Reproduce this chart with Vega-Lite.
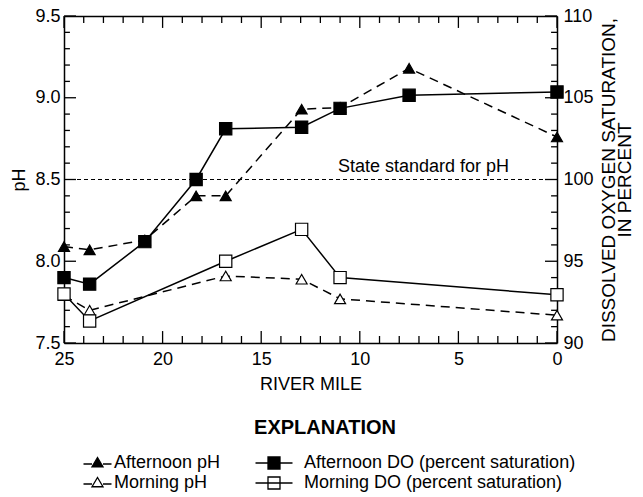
{
  "$schema": "https://vega.github.io/schema/vega-lite/v6.json",
  "width": 493,
  "height": 327,
  "autosize": "none",
  "padding": {"left": 64, "top": 16, "right": 86, "bottom": 154},
  "background": "white",
  "config": {
    "font": "Liberation Sans",
    "view": {"stroke": null},
    "axis": {
      "grid": false, "ticks": false, "domainColor": "black", "domainWidth": 1.5,
      "labelColor": "black", "labelFontSize": 18, "labelFont": "Liberation Sans", "labelFlush": false, "labelOverlap": false, "labelBound": false,
      "titleColor": "black", "titleFontSize": 18, "titleFont": "Liberation Sans", "titleFontWeight": "normal"
    },
    "legend": {
      "labelFont": "Liberation Sans", "labelFontSize": 18, "labelColor": "black", "labelLimit": 400,
      "titleFont": "Liberation Sans", "titleFontSize": 20, "titleFontWeight": "bold", "titleColor": "black"
    }
  },
  "datasets": {
    "ph": [
      {"mile": 25, "series": "Afternoon pH", "value": 8.09},
      {"mile": 23.7, "series": "Afternoon pH", "value": 8.07},
      {"mile": 20.9, "series": "Afternoon pH", "value": 8.13},
      {"mile": 18.3, "series": "Afternoon pH", "value": 8.40},
      {"mile": 16.8, "series": "Afternoon pH", "value": 8.40},
      {"mile": 12.95, "series": "Afternoon pH", "value": 8.93},
      {"mile": 11, "series": "Afternoon pH", "value": 8.94},
      {"mile": 7.5, "series": "Afternoon pH", "value": 9.18},
      {"mile": 0, "series": "Afternoon pH", "value": 8.76},
      {"mile": 25, "series": "Morning pH", "value": 7.79},
      {"mile": 23.7, "series": "Morning pH", "value": 7.70},
      {"mile": 16.8, "series": "Morning pH", "value": 7.91},
      {"mile": 12.95, "series": "Morning pH", "value": 7.89},
      {"mile": 11, "series": "Morning pH", "value": 7.77},
      {"mile": 0, "series": "Morning pH", "value": 7.67}
    ],
    "do": [
      {"mile": 25, "series": "Afternoon DO (percent saturation)", "value": 94.0},
      {"mile": 23.7, "series": "Afternoon DO (percent saturation)", "value": 93.6},
      {"mile": 20.9, "series": "Afternoon DO (percent saturation)", "value": 96.2},
      {"mile": 18.3, "series": "Afternoon DO (percent saturation)", "value": 100.0},
      {"mile": 16.8, "series": "Afternoon DO (percent saturation)", "value": 103.1},
      {"mile": 12.95, "series": "Afternoon DO (percent saturation)", "value": 103.2},
      {"mile": 11, "series": "Afternoon DO (percent saturation)", "value": 104.35},
      {"mile": 7.5, "series": "Afternoon DO (percent saturation)", "value": 105.15},
      {"mile": 0, "series": "Afternoon DO (percent saturation)", "value": 105.35},
      {"mile": 25, "series": "Morning DO (percent saturation)", "value": 93.0},
      {"mile": 23.7, "series": "Morning DO (percent saturation)", "value": 91.35},
      {"mile": 16.8, "series": "Morning DO (percent saturation)", "value": 95.0},
      {"mile": 12.95, "series": "Morning DO (percent saturation)", "value": 96.95},
      {"mile": 11, "series": "Morning DO (percent saturation)", "value": 94.0},
      {"mile": 0, "series": "Morning DO (percent saturation)", "value": 92.95}
    ],
    "xticks": [
      {"mile": 0}, {"mile": 1}, {"mile": 2}, {"mile": 3}, {"mile": 4}, {"mile": 5}, {"mile": 6}, {"mile": 7}, {"mile": 8}, {"mile": 9},
      {"mile": 10}, {"mile": 11}, {"mile": 12}, {"mile": 13}, {"mile": 14}, {"mile": 15}, {"mile": 16}, {"mile": 17}, {"mile": 18}, {"mile": 19},
      {"mile": 20}, {"mile": 21}, {"mile": 22}, {"mile": 23}, {"mile": 24}, {"mile": 25}
    ],
    "yticks": [
      {"tick": 7.5}, {"tick": 7.6}, {"tick": 7.7}, {"tick": 7.8}, {"tick": 7.9}, {"tick": 8.0}, {"tick": 8.1}, {"tick": 8.2}, {"tick": 8.3}, {"tick": 8.4},
      {"tick": 8.5}, {"tick": 8.6}, {"tick": 8.7}, {"tick": 8.8}, {"tick": 8.9}, {"tick": 9.0}, {"tick": 9.1}, {"tick": 9.2}, {"tick": 9.3}, {"tick": 9.4}, {"tick": 9.5}
    ]
  },
  "layer": [
    {
      "data": {"name": "ph"},
      "layer": [
        {
          "data": {"name": "xticks"},
          "transform": [{"filter": "datum.mile % 5 !== 0"}],
          "mark": {"type": "rule", "color": "black", "strokeWidth": 1.3},
          "encoding": {
            "x": {"field": "mile", "type": "quantitative"},
            "y": {"datum": 7.5, "type": "quantitative"},
            "y2": {"datum": 7.543}
          }
        },
        {
          "data": {"name": "xticks"},
          "transform": [{"filter": "datum.mile % 5 === 0"}],
          "mark": {"type": "rule", "color": "black", "strokeWidth": 1.3},
          "encoding": {
            "x": {"field": "mile", "type": "quantitative"},
            "y": {"datum": 7.5, "type": "quantitative"},
            "y2": {"datum": 7.573}
          }
        },
        {
          "data": {"name": "xticks"},
          "transform": [{"filter": "datum.mile % 5 !== 0"}],
          "mark": {"type": "rule", "color": "black", "strokeWidth": 1.3},
          "encoding": {
            "x": {"field": "mile", "type": "quantitative"},
            "y": {"datum": 9.5, "type": "quantitative"},
            "y2": {"datum": 9.457}
          }
        },
        {
          "data": {"name": "xticks"},
          "transform": [{"filter": "datum.mile % 5 === 0"}],
          "mark": {"type": "rule", "color": "black", "strokeWidth": 1.3},
          "encoding": {
            "x": {"field": "mile", "type": "quantitative"},
            "y": {"datum": 9.5, "type": "quantitative"},
            "y2": {"datum": 9.427}
          }
        },
        {
          "data": {"name": "yticks"},
          "transform": [{"filter": "abs(datum.tick*2 - round(datum.tick*2)) > 0.001"}],
          "mark": {"type": "rule", "color": "black", "strokeWidth": 1.3},
          "encoding": {
            "y": {"field": "tick", "type": "quantitative"},
            "x": {"datum": 25, "type": "quantitative"},
            "x2": {"datum": 24.7}
          }
        },
        {
          "data": {"name": "yticks"},
          "transform": [{"filter": "abs(datum.tick*2 - round(datum.tick*2)) < 0.001"}],
          "mark": {"type": "rule", "color": "black", "strokeWidth": 1.3},
          "encoding": {
            "y": {"field": "tick", "type": "quantitative"},
            "x": {"datum": 25, "type": "quantitative"},
            "x2": {"datum": 24.39}
          }
        },
        {
          "data": {"name": "yticks"},
          "transform": [{"filter": "abs(datum.tick*2 - round(datum.tick*2)) > 0.001"}],
          "mark": {"type": "rule", "color": "black", "strokeWidth": 1.3},
          "encoding": {
            "y": {"field": "tick", "type": "quantitative"},
            "x": {"datum": 0, "type": "quantitative"},
            "x2": {"datum": 0.3}
          }
        },
        {
          "data": {"name": "yticks"},
          "transform": [{"filter": "abs(datum.tick*2 - round(datum.tick*2)) < 0.001"}],
          "mark": {"type": "rule", "color": "black", "strokeWidth": 1.3},
          "encoding": {
            "y": {"field": "tick", "type": "quantitative"},
            "x": {"datum": 0, "type": "quantitative"},
            "x2": {"datum": 0.61}
          }
        },
        {
          "data": {"values": [{}]},
          "mark": {"type": "rule", "strokeDash": [4, 3], "strokeWidth": 1, "color": "black"},
          "encoding": {"y": {"datum": 8.5, "type": "quantitative"}}
        },
        {
          "data": {"values": [{}]},
          "mark": {"type": "text", "fontSize": 18, "font": "Liberation Sans", "color": "black", "align": "center", "baseline": "middle"},
          "encoding": {
            "x": {"datum": 6.77, "type": "quantitative"},
            "y": {"datum": 8.578, "type": "quantitative"},
            "text": {"value": "State standard for pH"}
          }
        },
        {
          "mark": {"type": "line", "strokeDash": [9, 6], "strokeWidth": 1.5, "color": "black"},
          "encoding": {
            "x": {"field": "mile", "type": "quantitative",
              "scale": {"domain": [0, 25], "reverse": true, "nice": false, "zero": false},
              "axis": {"orient": "bottom", "title": "RIVER MILE", "values": [0,5,10,15,20,25], "tickCount": 100, "format": "d",
                "ticks": false, "labelOverlap": false, "labelPadding": 7, "titlePadding": 7}},
            "y": {"field": "value", "type": "quantitative",
              "scale": {"domain": [7.5, 9.5], "nice": false, "zero": false},
              "axis": {"orient": "left", "title": "pH", "values": [7.5, 8, 8.5, 9, 9.5], "tickCount": 100, "format": ".1f",
                "ticks": false, "labelOverlap": false, "labelPadding": 4, "titlePadding": 6}},
            "detail": {"field": "series"}
          }
        },
        {
          "mark": {"type": "point", "shape": "triangle-up", "size": 121, "stroke": "black", "strokeWidth": 1.2, "opacity": 1, "filled": false},
          "encoding": {
            "x": {"field": "mile", "type": "quantitative"},
            "y": {"field": "value", "type": "quantitative"},
            "fill": {"field": "series", "type": "nominal",
              "scale": {"domain": ["Afternoon pH", "Morning pH", "Afternoon DO (percent saturation)", "Morning DO (percent saturation)"], "range": ["black", "white", "black", "white"]}}
          }
        },
        {
          "transform": [{"filter": "false"}],
          "mark": {"type": "point", "size": 100, "stroke": "black", "strokeWidth": 1.3, "filled": false},
          "encoding": {
            "fill": {"field": "series", "type": "nominal",
              "scale": {"domain": ["Afternoon pH", "Morning pH", "Afternoon DO (percent saturation)", "Morning DO (percent saturation)"], "range": ["black", "white", "black", "white"]},
              "legend": {"title": "EXPLANATION", "orient": "none", "legendX": 11, "legendY": 402, "columns": 2, "columnPadding": 31, "rowPadding": 2, "titlePadding": 16, "titleAnchor": "middle", "symbolSize": 100, "symbolStrokeColor": "black", "symbolStrokeWidth": 1.3, "symbolOpacity": 1, "labelOffset": 21, "labelLimit": 400, "padding": 0}},
            "shape": {"field": "series", "type": "nominal",
              "scale": {"domain": ["Afternoon pH", "Morning pH", "Afternoon DO (percent saturation)", "Morning DO (percent saturation)"],
                "range": [
                  "M-0.1,0.2H1.6M3.8,0.2H5.5M1.6,0.75L2.7,-1.1L3.8,0.75Z",
                  "M-0.1,0.2H1.6M3.8,0.2H5.5M1.6,0.75L2.7,-1.1L3.8,0.75Z",
                  "M-3.7,0H3.7M-1.2,-1.2H1.2V1.2H-1.2Z",
                  "M-3.7,0H3.7M-1.2,-1.2H1.2V1.2H-1.2Z"
                ]},
              "legend": {"title": "EXPLANATION", "orient": "none", "legendX": 11, "legendY": 402, "columns": 2, "columnPadding": 31, "rowPadding": 2, "titlePadding": 16, "titleAnchor": "middle", "symbolSize": 100, "symbolStrokeColor": "black", "symbolStrokeWidth": 1.3, "symbolOpacity": 1, "labelOffset": 21, "labelLimit": 400, "padding": 0}}
          }
        }
      ]
    },
    {
      "data": {"name": "do"},
      "layer": [
        {
          "mark": {"type": "line", "strokeWidth": 1.5, "color": "black"},
          "encoding": {
            "x": {"field": "mile", "type": "quantitative",
              "scale": {"domain": [0, 25], "reverse": true, "nice": false, "zero": false},
              "axis": {"orient": "top", "title": null, "labels": false, "ticks": false}},
            "y": {"field": "value", "type": "quantitative",
              "scale": {"domain": [90, 110], "nice": false, "zero": false},
              "axis": {"orient": "right", "title": ["DISSOLVED OXYGEN SATURATION,", "IN PERCENT"], "titleAngle": 270, "titleLineHeight": 16, "titleFontSize": 19,
                "values": [90, 95, 100, 105, 110], "tickCount": 100, "format": "d",
                "ticks": false, "labelOverlap": false, "labelPadding": 6, "titlePadding": 9}},
            "detail": {"field": "series"}
          }
        },
        {
          "mark": {"type": "point", "shape": "square", "size": 150, "stroke": "black", "strokeWidth": 1.2, "opacity": 1, "filled": false},
          "encoding": {
            "x": {"field": "mile", "type": "quantitative"},
            "y": {"field": "value", "type": "quantitative"},
            "fill": {"field": "series", "type": "nominal",
              "scale": {"domain": ["Afternoon pH", "Morning pH", "Afternoon DO (percent saturation)", "Morning DO (percent saturation)"], "range": ["black", "white", "black", "white"]}}
          }
        }
      ]
    }
  ],
  "resolve": {"scale": {"y": "independent"}, "axis": {"x": "independent"}}
}
